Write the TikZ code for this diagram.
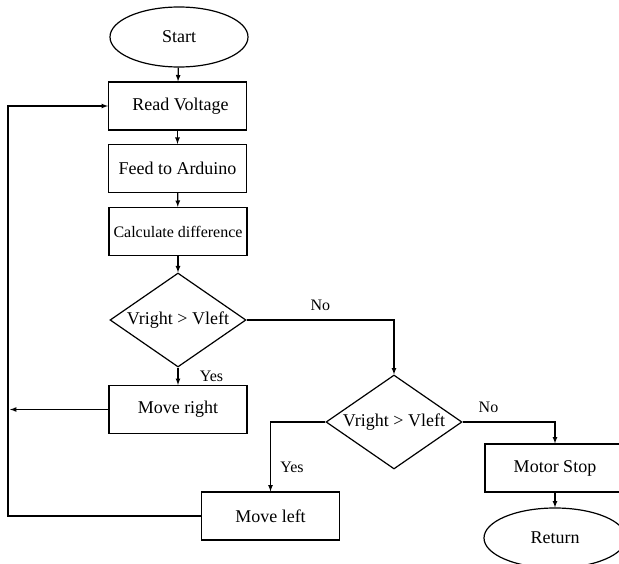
\documentclass[tikz,border=0pt]{standalone}
\usepackage{fontspec}
\setmainfont{Liberation Serif}
\usetikzlibrary{shapes.geometric,positioning}

\begin{document}
\begin{tikzpicture}[x=1pt,y=1pt,line width=1.2pt,>=latex,
    every node/.style={font=\fontsize{18}{21}\selectfont},
    terminal/.style={draw,ellipse,minimum width=138pt,minimum height=60pt,inner sep=0pt},
    process/.style={draw,rectangle,minimum width=138pt,minimum height=48pt,inner sep=1pt},
    decision/.style={draw,diamond,aspect=1.45,minimum width=136pt,minimum height=94pt,inner sep=1pt},
    lbl/.style={font=\fontsize{16}{19}\selectfont}]
    \useasboundingbox (0,0) rectangle (619,-564);
    \node[terminal] (start) at (179,-37) {Start};
    \node[process] (read) at (177.5,-106) {\hspace{6pt}Read Voltage};
    \node[process] (feed) at (177.5,-168.5) {Feed to Arduino};
    \node[process,font=\fontsize{16}{19}\selectfont] (calc) at (178,-231.5) {Calculate difference};
    \node[decision] (dec1) at (178,-320) {Vright > Vleft};
    \node[process] (mright) at (178,-409.5) {Move right};
    \node[decision] (dec2) at (394,-422) {Vright > Vleft};
    \node[process] (mleft) at (270.5,-516) {Move left};
    \node[process,minimum width=140pt] (mstop) at (555,-468) {Motor Stop};
    \node[terminal,minimum width=142pt] (ret) at (555,-538) {Return};
    \coordinate (mrend) at (10,-409.5);
    \coordinate (loop) at (8,-516);
    \draw[->] (start) -- (read);
    \draw[->] (read) -- (feed);
    \draw[->] (feed) -- (calc);
    \draw[->] (calc) -- (dec1);
    \draw[->] (dec1) -- node[lbl,right=18pt] (yes1) {Yes} (mright);
    \draw[->] (dec1.east) -| node[lbl,pos=0.25,above=5pt] (no1) {No} (dec2.north);
    \draw[->] (dec2.west) -| node[lbl,pos=0.83,right=6pt] (yes2) {Yes} (mleft.north);
    \draw[->] (dec2.east) -| node[lbl,pos=0.14,above=5pt] (no2) {No} (mstop.north);
    \draw[->] (mstop) -- (ret);
    \draw[->] (mright.west) -- (mrend);
    \draw[->] (mleft.west) -- (loop) |- (read.west);
\end{tikzpicture}
\end{document}
